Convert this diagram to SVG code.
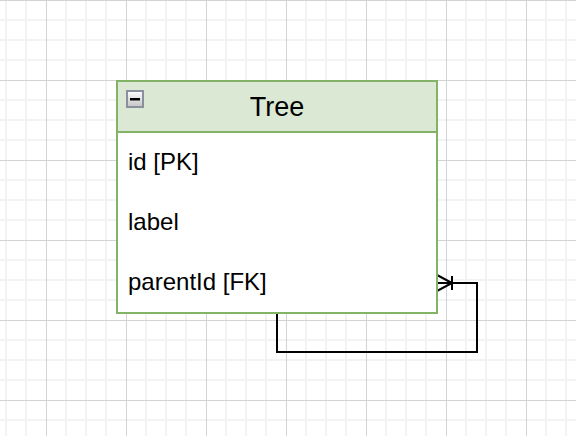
<svg xmlns="http://www.w3.org/2000/svg" width="576" height="436" viewBox="0 0 576 436">
<style>
.txt{font-family:"Liberation Sans",Arial,Helvetica,sans-serif;fill:#000}
.row{font-size:24px}
.title{font-size:27px}
.edge{fill:none;stroke:#000;stroke-width:2}
</style>
<defs>
<pattern id="grid" x="5" y="0" width="80" height="80" patternUnits="userSpaceOnUse">
<rect x="0" y="0" width="80" height="80" fill="#ffffff"/>
<rect x="0" y="0" width="2" height="80" fill="#f3f3f3"/>
<rect x="20" y="0" width="2" height="80" fill="#f3f3f3"/>
<rect x="60" y="0" width="2" height="80" fill="#f3f3f3"/>
<rect x="0" y="19" width="80" height="2" fill="#f3f3f3"/>
<rect x="0" y="39" width="80" height="2" fill="#f3f3f3"/>
<rect x="0" y="59" width="80" height="2" fill="#f3f3f3"/>
<rect x="41" y="0" width="1" height="80" fill="#d3d3d3"/>
<rect x="0" y="0" width="80" height="1" fill="#d3d3d3"/>
</pattern>
<linearGradient id="btn" x1="0" y1="0" x2="0" y2="1">
<stop offset="0" stop-color="#ffffff"/>
<stop offset="1" stop-color="#c4c4c4"/>
</linearGradient>
</defs>
<rect x="0" y="0" width="576" height="436" fill="url(#grid)"/>
<g id="connectors">
<path class="edge" d="M277 313 V352 H477 V283 H438"/>
<path class="edge" d="M437 275 L452 283 L437 291 M452 276 V290"/>
</g>
<g id="node-tree">
<rect x="117" y="81" width="320" height="232" fill="#ffffff" stroke="#82b366" stroke-width="2"/>
<rect x="117" y="81" width="320" height="51" fill="#dae8d4" stroke="#82b366" stroke-width="2"/>
<rect x="127" y="91" width="16" height="16" fill="url(#btn)" stroke="#8a90a0" stroke-width="2"/>
<rect x="130" y="98" width="10" height="2.5" fill="#000"/>
<text class="txt title" x="277" y="116" text-anchor="middle">Tree</text>
<text class="txt row" x="128" y="170">id [PK]</text>
<text class="txt row" x="128" y="230">label</text>
<text class="txt row" x="128" y="290">parentId [FK]</text>
</g>
</svg>
